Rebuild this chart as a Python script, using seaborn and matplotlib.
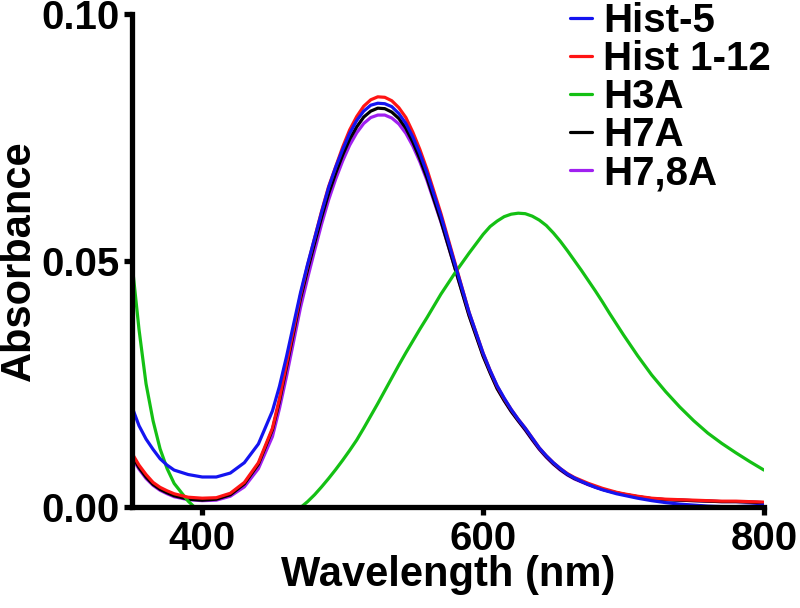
import matplotlib
matplotlib.use('Agg')
import matplotlib.pyplot as plt
from matplotlib.ticker import FormatStrFormatter
import seaborn as sns
import pandas as pd

# wavelength grid (nm)
wavelength = [350, 355, 360, 365, 370, 375, 380, 390, 400, 410, 420, 430, 440, 450, 460,
              470, 480, 490, 500, 505, 510, 515, 520, 525, 530, 535, 540, 545, 550, 555,
              560, 570, 580, 590, 600, 610, 620, 630, 640, 650, 660, 670, 680, 690, 700,
              720, 740, 760, 780, 800]

# absorbance
hist5 = [0.0203, 0.0165, 0.0138, 0.0117, 0.0098, 0.0085, 0.0075, 0.0066, 0.0061, 0.0061,
         0.0069, 0.0090, 0.0128, 0.0195, 0.0305, 0.0435, 0.0545, 0.0648, 0.0725, 0.0758,
         0.0784, 0.0803, 0.0815, 0.0819, 0.0818, 0.0812, 0.0798, 0.0778, 0.0750, 0.0717,
         0.0678, 0.0590, 0.0492, 0.0395, 0.0312, 0.0246, 0.0198, 0.0160, 0.0120, 0.0090,
         0.0067, 0.0052, 0.0040, 0.0031, 0.0024, 0.0013, 0.0006, 0.0002, 0.0001, 0.0004]
hist1_12 = [0.0109, 0.0085, 0.0066, 0.0050, 0.0040, 0.0033, 0.0027, 0.0020, 0.0018, 0.0019,
            0.0028, 0.0050, 0.0090, 0.0160, 0.0290, 0.0430, 0.0545, 0.0650, 0.0730, 0.0765,
            0.0792, 0.0813, 0.0826, 0.0832, 0.0831, 0.0824, 0.0810, 0.0790, 0.0760, 0.0725,
            0.0685, 0.0595, 0.0495, 0.0395, 0.0312, 0.0245, 0.0198, 0.0160, 0.0120, 0.0090,
            0.0068, 0.0054, 0.0043, 0.0034, 0.0027, 0.0018, 0.0015, 0.0013, 0.0012, 0.0010]
h3a = [0.0495, 0.0360, 0.0250, 0.0175, 0.0118, 0.0078, 0.0048, 0.0012, -0.0015, -0.0035,
       -0.0045, -0.0045, -0.0038, -0.0027, -0.0013, -0.0001, 0.0025, 0.0058, 0.0095, 0.0115,
       0.0136, 0.0160, 0.0185, 0.0210, 0.0236, 0.0262, 0.0288, 0.0313, 0.0337, 0.0361,
       0.0384, 0.0432, 0.0475, 0.0515, 0.0553, 0.0580, 0.0594, 0.0595, 0.0582, 0.0556,
       0.0520, 0.0480, 0.0438, 0.0393, 0.0349, 0.0268, 0.0203, 0.0150, 0.0110, 0.0075]
h7a = [0.0105, 0.0080, 0.0061, 0.0046, 0.0036, 0.0029, 0.0023, 0.0016, 0.0014, 0.0016,
       0.0025, 0.0047, 0.0087, 0.0157, 0.0284, 0.0423, 0.0535, 0.0636, 0.0714, 0.0746,
       0.0771, 0.0791, 0.0803, 0.0809, 0.0808, 0.0801, 0.0788, 0.0768, 0.0740, 0.0706,
       0.0668, 0.0580, 0.0484, 0.0388, 0.0306, 0.0240, 0.0194, 0.0157, 0.0118, 0.0088,
       0.0066, 0.0052, 0.0041, 0.0032, 0.0026, 0.0017, 0.0014, 0.0012, 0.0011, 0.0009]
h78a = [0.0100, 0.0077, 0.0058, 0.0044, 0.0034, 0.0027, 0.0021, 0.0015, 0.0013, 0.0014,
        0.0022, 0.0041, 0.0078, 0.0143, 0.0265, 0.0405, 0.0520, 0.0623, 0.0702, 0.0734,
        0.0759, 0.0778, 0.0790, 0.0795, 0.0795, 0.0789, 0.0777, 0.0758, 0.0732, 0.0700,
        0.0663, 0.0578, 0.0484, 0.0389, 0.0307, 0.0241, 0.0194, 0.0156, 0.0117, 0.0087,
        0.0065, 0.0051, 0.0040, 0.0032, 0.0026, 0.0017, 0.0014, 0.0012, 0.0011, 0.0009]

# extra readings in between, where the curves bend
wavelength_extra = [455, 465, 475, 485, 495, 605, 615, 625, 635, 645, 655, 665, 675, 685, 695,
                    710, 730, 750, 770, 790]
hist5_extra = [0.0245, 0.0370, 0.0492, 0.0598, 0.0689, 0.0277, 0.0221, 0.0178, 0.0140, 0.0104,
               0.0078, 0.0059, 0.0046, 0.0035, 0.0027, 0.0018, 0.0009, 0.0004, 0.0001, 0.0002]
hist1_12_extra = [0.0220, 0.0360, 0.0490, 0.0600, 0.0690, 0.0277, 0.0220, 0.0178, 0.0140, 0.0104,
                  0.0078, 0.0060, 0.0048, 0.0038, 0.0030, 0.0022, 0.0016, 0.0014, 0.0012, 0.0011]
h3a_extra = [-0.0020, -0.0007, 0.0011, 0.0041, 0.0076, 0.0569, 0.0589, 0.0596, 0.0590, 0.0571,
             0.0539, 0.0500, 0.0459, 0.0416, 0.0371, 0.0307, 0.0234, 0.0175, 0.0129, 0.0092]
h7a_extra = [0.0215, 0.0353, 0.0481, 0.0588, 0.0677, 0.0272, 0.0216, 0.0175, 0.0137, 0.0102,
             0.0076, 0.0058, 0.0046, 0.0036, 0.0029, 0.0021, 0.0015, 0.0013, 0.0011, 0.0010]
h78a_extra = [0.0200, 0.0335, 0.0464, 0.0574, 0.0665, 0.0273, 0.0216, 0.0175, 0.0136, 0.0101,
              0.0075, 0.0057, 0.0045, 0.0036, 0.0029, 0.0021, 0.0015, 0.0013, 0.0011, 0.0010]

labels = ['Hist-5', 'Hist 1-12', 'H3A', 'H7A', 'H7,8A']
colors = ['#1414f0', '#ff1414', '#14c014', '#000000', '#a020f0']

df = pd.DataFrame({'wavelength': wavelength + wavelength_extra,
                   'Hist-5': hist5 + hist5_extra,
                   'Hist 1-12': hist1_12 + hist1_12_extra,
                   'H3A': h3a + h3a_extra,
                   'H7A': h7a + h7a_extra,
                   'H7,8A': h78a + h78a_extra})
df = df.sort_values('wavelength').reset_index(drop=True)

sns.set_style('ticks')
plt.rcParams['font.family'] = ['Liberation Sans', 'DejaVu Sans']
plt.rcParams['font.weight'] = 'bold'
plt.rcParams['text.color'] = 'black'
plt.rcParams['axes.labelcolor'] = 'black'
plt.rcParams['axes.edgecolor'] = 'black'
plt.rcParams['xtick.color'] = 'black'
plt.rcParams['ytick.color'] = 'black'

fig = plt.figure(figsize=(8, 6.08), dpi=100)
ax = fig.add_axes([0.165, 0.166, 0.79, 0.811])

# draw last series first so Hist-5 ends on top
for name, col in reversed(list(zip(labels, colors))):
    sns.lineplot(data=df, x='wavelength', y=name, color=col, lw=2.3, label=name, ax=ax, sort=False)

ax.set_xlim(350, 800)
ax.set_ylim(0, 0.10)
ax.set_xticks([400, 600, 800])
ax.set_yticks([0.0, 0.05, 0.10])
ax.yaxis.set_major_formatter(FormatStrFormatter('%.2f'))
sns.despine(ax=ax)
for s in ['left', 'bottom']:
    ax.spines[s].set_linewidth(3.8)
    ax.spines[s].set_color('black')
ax.tick_params(width=3.8, length=6, labelsize=29, pad=3, colors='black')
for t in ax.get_xticklabels() + ax.get_yticklabels():
    t.set_fontweight('bold')
ax.set_xlabel('Wavelength (nm)', fontsize=30, fontweight='bold', labelpad=-2, color='black')
ax.set_ylabel('Absorbance', fontsize=30, fontweight='bold', labelpad=2, color='black')

handles, lbls = ax.get_legend_handles_labels()
order = [lbls.index(n) for n in labels]
leg = ax.legend([handles[i] for i in order], labels, loc='upper left',
                bbox_to_anchor=(0.712, 0.996), bbox_transform=fig.transFigure,
                frameon=False, fontsize=29, handlelength=0.55, handletextpad=0.28,
                labelspacing=0.0, borderpad=0, borderaxespad=0)
for t in leg.get_texts():
    t.set_color('black')

fig.savefig('out.png', dpi=100)
